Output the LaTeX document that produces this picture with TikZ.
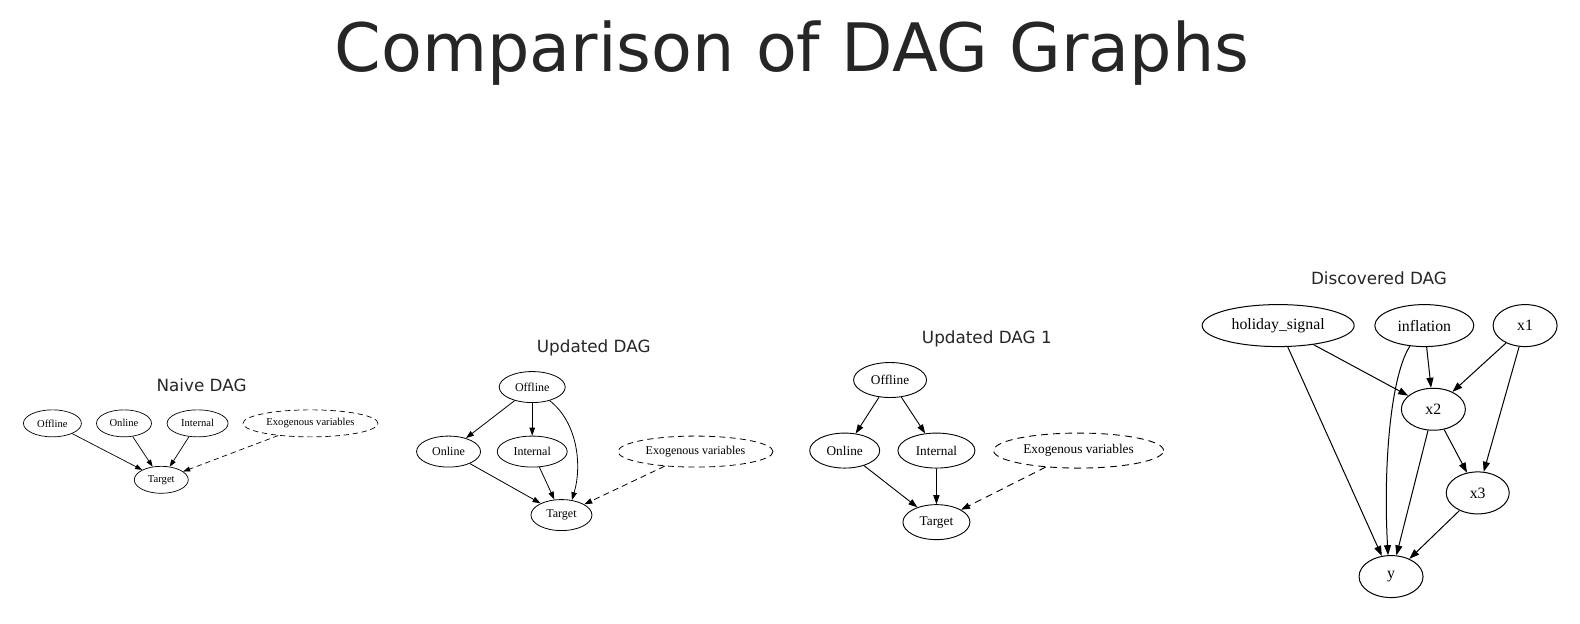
\documentclass[tikz,border=0pt]{standalone}
\usepackage{fontspec}
\setmainfont{Liberation Serif}
\newfontfamily\djv{DejaVu Sans}
\usetikzlibrary{shapes.geometric,arrows.meta}
\definecolor{ttl}{RGB}{38,38,38}
\begin{document}
\begin{tikzpicture}[x=1.008pt,y=-1.008pt,
  nd/.style={ellipse,draw=black,inner sep=0pt,text=black},
  dA/.style={dash pattern=on 5.3pt off 3.8pt},
  dB/.style={dash pattern=on 6pt off 4.3pt},
  dC/.style={dash pattern=on 7pt off 5pt},
  nA/.style={nd,line width=0.7pt,minimum height=27pt,font=\fontsize{10.6}{12}\selectfont},
  nB/.style={nd,line width=0.8pt,minimum height=31pt,font=\fontsize{12}{14}\selectfont},
  nC/.style={nd,line width=0.9pt,minimum height=35pt,font=\fontsize{13.3}{15}\selectfont},
  nD/.style={nd,line width=1pt,minimum height=42pt,font=\fontsize{15.8}{18}\selectfont},
  eA/.style={line width=0.7pt,-{Triangle[length=7pt,width=5pt]}},
  eB/.style={line width=0.8pt,-{Triangle[length=8pt,width=5.5pt]}},
  eC/.style={line width=0.9pt,-{Triangle[length=9pt,width=6.2pt]}},
  eD/.style={line width=1pt,-{Triangle[length=10pt,width=7pt]}},
  sub/.style={text=ttl,font=\djv\fontsize{16.8}{20}\selectfont,inner sep=0pt,anchor=base}
]
\useasboundingbox (0,0) rectangle (1567.46,618.06);
\fill[white] (0,0) rectangle (1567.46,618.06);
\node[text=ttl,font=\djv\fontsize{66.8}{76}\selectfont,inner sep=0pt,anchor=base] (title) at (785.7,70.9) {Comparison of DAG Graphs};

% Naive DAG
\node[sub] (tA) at (200,388) {Naive DAG};
\node[nA,minimum width=58pt] (aOff) at (52,420) {Offline};
\node[nA,minimum width=55pt] (aOn) at (123,420) {Online};
\node[nA,minimum width=61pt] (aInt) at (196,420) {Internal};
\node[nA,dA,minimum width=135pt] (aExo) at (308,420) {Exogenous variables};
\node[nA,minimum width=54pt] (aT) at (160,476) {Target};
\draw[eA] (aOff) -- (aT);
\draw[eA] (aOn) -- (aT);
\draw[eA] (aInt) -- (aT);
\draw[eA,dA] (aExo) -- (aT);

% Updated DAG
\node[sub] (tB) at (589,350) {Updated DAG};
\node[nB,minimum width=66pt] (bOff) at (528,384) {Offline};
\node[nB,minimum width=64pt] (bOn) at (445,448) {Online};
\node[nB,minimum width=70pt] (bInt) at (528,448) {Internal};
\node[nB,dB,minimum width=155pt] (bExo) at (690,448) {Exogenous variables};
\node[nB,minimum width=61pt] (bT) at (557,511) {Target};
\draw[eB] (bOff) -- (bOn);
\draw[eB] (bOff) -- (bInt);
\draw[eB] (bOff.-38) .. controls (572,418) and (578,460) .. (bT.55);
\draw[eB] (bOn) -- (bT);
\draw[eB] (bInt) -- (bT);
\draw[eB,dB] (bExo) -- (bT);

% Updated DAG 1
\node[sub] (tC) at (979,341) {Updated DAG 1};
\node[nC,minimum width=73pt] (cOff) at (883,377) {Offline};
\node[nC,minimum width=70pt] (cOn) at (838,447) {Online};
\node[nC,minimum width=77pt] (cInt) at (929,447) {Internal};
\node[nC,dC,minimum width=170pt] (cExo) at (1070,447) {Exogenous variables};
\node[nC,minimum width=67pt] (cT) at (929,518) {Target};
\draw[eC] (cOff) -- (cOn);
\draw[eC] (cOff) -- (cInt);
\draw[eC] (cOn) -- (cT);
\draw[eC] (cInt) -- (cT);
\draw[eC,dC] (cExo) -- (cT);

% Discovered DAG
\node[sub] (tD) at (1368,282) {Discovered DAG};
\node[nD,minimum width=152pt] (hs) at (1268,323) {holiday\_signal};
\node[nD,minimum width=99pt] (inf) at (1413,323) {inflation};
\node[nD,minimum width=64pt] (x1) at (1513,323) {x1};
\node[nD,minimum width=64pt] (x2) at (1422,406) {x2};
\node[nD,minimum width=63pt] (x3) at (1466,489) {x3};
\node[nD,minimum width=64pt] (y) at (1380,572) {y};
\draw[eD] (hs) -- (x2);
\draw[eD] (hs) -- (y);
\draw[eD] (inf) -- (x2);
\draw[eD] (inf.-125) .. controls (1380,372) and (1372,460) .. (y.98);
\draw[eD] (x1) -- (x2);
\draw[eD] (x1) -- (x3);
\draw[eD] (x2) -- (x3);
\draw[eD] (x2) -- (y);
\draw[eD] (x3) -- (y);
\end{tikzpicture}
\end{document}
